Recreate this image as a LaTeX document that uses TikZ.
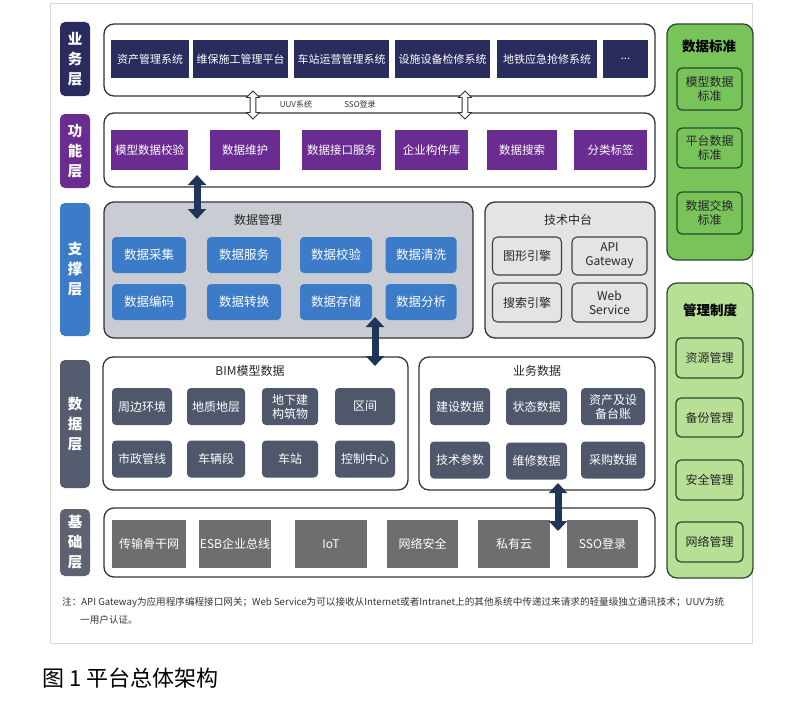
\documentclass[tikz,border=0pt]{standalone}
\usepackage{fontspec}
\setmainfont{Noto Sans CJK SC}
\usetikzlibrary{shapes.arrows,arrows.meta}
\definecolor{navy}{HTML}{2A2C5E}
\definecolor{purp}{HTML}{6B2C92}
\definecolor{blu}{HTML}{3B7BC8}
\definecolor{slate}{HTML}{4F576B}
\definecolor{slatetag}{HTML}{555C6F}
\definecolor{basegray}{HTML}{6E6E6E}
\definecolor{basetag}{HTML}{5E6371}
\definecolor{gA}{HTML}{78C45A}
\definecolor{gB}{HTML}{B8DF96}
\definecolor{gline}{HTML}{2E4A2E}
\definecolor{dmfill}{HTML}{C9CCD3}
\definecolor{techfill}{HTML}{E4E4E4}
\definecolor{arrowdk}{HTML}{1F3557}
\begin{document}
\begin{tikzpicture}[x=1pt,y=-1pt,
  wh/.style 2 args={minimum width=#1,minimum height=#2},
  tag/.style={rounded corners=5,text=white,inner sep=0,align=center,font=\bfseries\fontsize{14.5}{20}\selectfont},
  layer/.style={draw=black!80,line width=1.3,rounded corners=10,fill=white,inner sep=0},
  inbox/.style={inner sep=0,align=center,text=white,font=\fontsize{11}{13}\selectfont},
  bizb/.style={inbox,fill=navy},
  funb/.style={inbox,fill=purp,font=\fontsize{11.5}{13}\selectfont},
  supb/.style={inbox,fill=blu,rounded corners=4,font=\fontsize{12.5}{14}\selectfont},
  datb/.style={inbox,fill=slate,rounded corners=4,font=\fontsize{12}{14}\selectfont},
  baseb/.style={inbox,fill=basegray,font=\fontsize{12}{14}\selectfont},
  techb/.style={inbox,fill=techfill,draw=black!75,line width=1.1,rounded corners=5,text=black!85,font=\fontsize{12}{14}\selectfont},
  title/.style={inner sep=0,text=black!85,font=\fontsize{12}{14}\selectfont},
  gbox/.style={draw=gline,line width=1.3,rounded corners=10,inner sep=0},
  gin/.style={draw=gline,line width=1.3,rounded corners=5,inner sep=0,align=center,text=black!85,font=\fontsize{12}{14.5}\selectfont},
  gtitle/.style={inner sep=0,text=black,font=\bfseries\fontsize{13.5}{16}\selectfont},
  bigarrow/.style={arrowdk,line width=7,{Triangle[length=10,width=18]}-{Triangle[length=10,width=18]}},
  hollow/.style={double arrow,draw=black!80,fill=white,line width=0.8,minimum width=13,double arrow head extend=3,inner sep=2,minimum height=28,rotate=90}
]
\useasboundingbox (0,0) rectangle (800,701);
\fill[white] (0,0) rectangle (800,701);
\node[draw=black!15,line width=1,fill=white,wh={702}{639},inner sep=0] (outer) at (401,323.5) {};

% layer tags
\node[tag,fill=navy,wh={30}{74}] (t1) at (75,59) {业\\务\\层};
\node[tag,fill=purp,wh={30}{74}] (t2) at (75,151) {功\\能\\层};
\node[tag,fill=blu,wh={30}{133}] (t3) at (75,269.5) {支\\撑\\层};
\node[tag,fill=slatetag,wh={30}{128}] (t4) at (75,424) {数\\据\\层};
\node[tag,fill=basetag,wh={30}{67}] (t5) at (75,542.5) {基\\础\\层};

% business layer
\node[layer,wh={551}{72}] (L1) at (379.5,60) {};
\node[bizb,wh={78}{38}] (b1) at (150,59) {资产管理系统};
\node[bizb,wh={95}{38}] (b2) at (240.5,59) {维保施工管理平台};
\node[bizb,wh={95}{38}] (b3) at (341.5,59) {车站运营管理系统};
\node[bizb,wh={95}{38}] (b4) at (442.5,59) {设施设备检修系统};
\node[bizb,wh={100}{38}] (b5) at (547,59) {地铁应急抢修系统};
\node[bizb,wh={45}{38}] (b6) at (625.5,59) {...};

% function layer
\node[layer,wh={551}{74}] (L2) at (379.5,150) {};
\node[funb,wh={77}{40}] (f1) at (149.5,150) {模型数据校验};
\node[funb,wh={70}{40}] (f2) at (245,150) {数据维护};
\node[funb,wh={79}{40}] (f3) at (341.5,150) {数据接口服务};
\node[funb,wh={73}{40}] (f4) at (431.5,150) {企业构件库};
\node[funb,wh={70}{40}] (f5) at (522,150) {数据搜索};
\node[funb,wh={73}{40}] (f6) at (610.5,150) {分类标签};

% hollow arrows + labels
\node[hollow] (h1) at (253,105) {};
\node[hollow] (h2) at (465,105) {};
\node[inner sep=0,font=\fontsize{8}{9}\selectfont,text=black!80] (uuv) at (296,104) {UUV系统};
\node[inner sep=0,font=\fontsize{8}{9}\selectfont,text=black!80] (sso) at (360,104) {SSO登录};

% support layer
\node[layer,fill=dmfill,wh={369}{136}] (dm) at (288.5,270) {};
\node[title] (dmt) at (258,220) {数据管理};
\node[supb,wh={74}{36}] (s1) at (149,255) {数据采集};
\node[supb,wh={74}{36}] (s2) at (244,255) {数据服务};
\node[supb,wh={72}{36}] (s3) at (336,255) {数据校验};
\node[supb,wh={71}{36}] (s4) at (421,255) {数据清洗};
\node[supb,wh={74}{36}] (s5) at (149,302) {数据编码};
\node[supb,wh={74}{36}] (s6) at (244,302) {数据转换};
\node[supb,wh={72}{36}] (s7) at (336,302) {数据存储};
\node[supb,wh={71}{36}] (s8) at (421,302) {数据分析};

\node[layer,fill=techfill,wh={170}{136}] (tech) at (570,270) {};
\node[title] (techt) at (568,220) {技术中台};
\node[techb,wh={69}{38}] (e1) at (527,256) {图形引擎};
\node[techb,wh={75}{38}] (e2) at (609.5,256) {API\\Gateway};
\node[techb,wh={69}{39}] (e3) at (527,302.5) {搜索引擎};
\node[techb,wh={75}{39}] (e4) at (609.5,302.5) {Web\\Service};

% data layer
\node[layer,wh={305}{133}] (bim) at (255.5,423.5) {};
\node[title] (bimt) at (250,371) {BIM模型数据};
\node[datb,wh={60}{37}] (d1) at (142,406.5) {周边环境};
\node[datb,wh={58}{37}] (d2) at (216,406.5) {地质地层};
\node[datb,wh={56}{37}] (d3) at (290,406.5) {地下建\\构筑物};
\node[datb,wh={60}{37}] (d4) at (365,406.5) {区间};
\node[datb,wh={60}{37}] (d5) at (142,459) {市政管线};
\node[datb,wh={58}{37}] (d6) at (216,459) {车辆段};
\node[datb,wh={56}{37}] (d7) at (290,459) {车站};
\node[datb,wh={60}{37}] (d8) at (365,459) {控制中心};

\node[layer,wh={236}{133}] (yw) at (537,423.5) {};
\node[title] (ywt) at (537,371) {业务数据};
\node[datb,wh={60}{37}] (y1) at (460,406.5) {建设数据};
\node[datb,wh={61}{37}] (y2) at (536.5,406.5) {状态数据};
\node[datb,wh={64}{37}] (y3) at (613,406.5) {资产及设\\备台账};
\node[datb,wh={60}{37}] (y4) at (460,460) {技术参数};
\node[datb,wh={61}{37}] (y5) at (536.5,461) {维修数据};
\node[datb,wh={64}{37}] (y6) at (613,460) {采购数据};

% base layer
\node[layer,wh={551}{69}] (L5) at (379.5,542.5) {};
\node[baseb,wh={74}{48}] (p1) at (149,544) {传输骨干网};
\node[baseb,wh={72}{48}] (p2) at (235,544) {ESB企业总线};
\node[baseb,wh={72}{48}] (p3) at (331,544) {IoT};
\node[baseb,wh={71}{48}] (p4) at (422.5,544) {网络安全};
\node[baseb,wh={72}{48}] (p5) at (514,544) {私有云};
\node[baseb,wh={71}{48}] (p6) at (602.5,544) {SSO登录};

% dark arrows
\coordinate (a1s) at (197,175);
\coordinate (a1e) at (197,219);
\coordinate (a2s) at (375,317);
\coordinate (a2e) at (375,366);
\coordinate (a3s) at (558,483);
\coordinate (a3e) at (558,531);
\draw[bigarrow] (a1s) -- (a1e);
\draw[bigarrow] (a2s) -- (a2e);
\draw[bigarrow] (a3s) -- (a3e);

% right column
\node[gbox,fill=gA,wh={86}{236}] (std) at (710,142) {};
\node[gtitle] (stdt) at (709,46) {数据标准};
\node[gin,fill=gA,wh={65}{42}] (g1) at (709.5,89) {模型数据\\标准};
\node[gin,fill=gA,wh={65}{40}] (g2) at (709.5,148) {平台数据\\标准};
\node[gin,fill=gA,wh={65}{42}] (g3) at (709.5,213) {数据交换\\标准};

\node[gbox,fill=gB,wh={86}{295}] (mg) at (710,430.5) {};
\node[gtitle] (mgt) at (710,310) {管理制度};
\node[gin,fill=gB,wh={67}{40}] (m1) at (709.5,358) {资源管理};
\node[gin,fill=gB,wh={67}{39}] (m2) at (709.5,417.5) {备份管理};
\node[gin,fill=gB,wh={67}{40}] (m3) at (709.5,480) {安全管理};
\node[gin,fill=gB,wh={67}{40}] (m4) at (709.5,542) {网络管理};

% footnote
\node[anchor=west,inner sep=0,text=black!80,font=\fontsize{9.6}{11}\selectfont] (fn1) at (62,603) {注：API Gateway为应用程序编程接口网关；Web Service为可以接收从Internet或者Intranet上的其他系统中传递过来请求的轻量级独立通讯技术；UUV为统};
\node[anchor=west,inner sep=0,text=black!80,font=\fontsize{9.6}{11}\selectfont] (fn2) at (80,620) {一用户认证。};

% caption
\node[anchor=west,inner sep=0,text=black,font=\fontsize{22}{26}\selectfont] (cap) at (42,678) {图 1 平台总体架构};
\end{tikzpicture}
\end{document}
